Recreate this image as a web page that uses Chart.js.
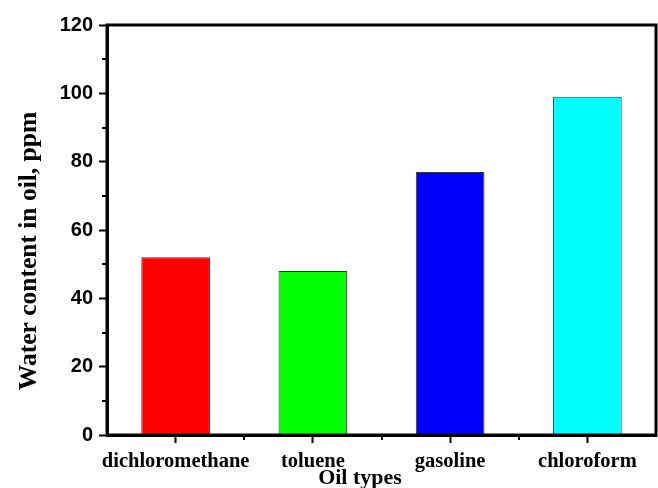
<!DOCTYPE html>
<html>
<head>
<meta charset="utf-8">
<script src="https://cdn.jsdelivr.net/npm/chart.js@4"></script>
<style>
  body { margin: 0; background: #fff; }
  #wrap { width: 658px; height: 488px; }
</style>
</head>
<body>
<div id="wrap"><canvas id="chart"></canvas></div>
<script>
// data
const oilTypes = ["dichloromethane", "toluene", "gasoline", "chloroform"];
const waterContent = [52, 48, 77, 99];
const barColors = ["#ff0000", "#00ff00", "#0000ff", "#00ffff"];
const yMinorTicks = [10, 30, 50, 70, 90, 110];
const xTitle = "Oil types";
const yTitle = "Water content in oil, ppm";

// frame round the plot, the short minor ticks and the axis titles
// (the titles sit off-centre in the original, so they are drawn here)
const framePlugin = {
    id: "frame",
    afterDraw(chart) {
        const ctx = chart.ctx;
        const a = chart.chartArea;
        const x = chart.scales.x;
        const y = chart.scales.y;
        ctx.save();
        ctx.strokeStyle = "#000";
        ctx.lineWidth = 3;
        ctx.strokeRect(a.left, a.top, a.right - a.left, a.bottom - a.top);
        ctx.lineWidth = 2;
        ctx.beginPath();
        yMinorTicks.forEach(v => {
            const py = Math.round(y.getPixelForValue(v));
            ctx.moveTo(a.left - 5, py);
            ctx.lineTo(a.left, py);
        });
        for (let i = 0; i < oilTypes.length - 1; i++) {
            const px = Math.round(x.getPixelForValue(i + 0.5));
            ctx.moveTo(px, a.bottom);
            ctx.lineTo(px, a.bottom + 5);
        }
        ctx.stroke();

        ctx.fillStyle = "#000";
        ctx.textAlign = "center";
        ctx.textBaseline = "middle";
        ctx.font = "bold 22px 'Liberation Serif'";
        ctx.fillText(xTitle, 360, 478);
        ctx.translate(29, 251);
        ctx.rotate(-Math.PI / 2);
        ctx.font = "bold 25.5px 'Liberation Serif'";
        ctx.fillText(yTitle, 0, 0);
        ctx.restore();
    }
};

new Chart(document.getElementById("chart"), {
    type: "bar",
    data: {
        labels: oilTypes,
        datasets: [{
            data: waterContent,
            backgroundColor: barColors,
            borderColor: "#333",
            borderWidth: 1,
            barPercentage: 0.5,
            categoryPercentage: 1
        }]
    },
    options: {
        responsive: true,
        maintainAspectRatio: false,
        animation: false,
        layout: { padding: { left: 0, right: 2, top: 25, bottom: 0 } },
        plugins: { legend: { display: false }, tooltip: { enabled: false } },
        scales: {
            x: {
                afterFit(scale) { scale.height = 53; },
                grid: { offset: false, drawOnChartArea: false, drawTicks: true, tickLength: 8, tickWidth: 2, tickColor: "#000" },
                border: { display: true, color: "#000", width: 3 },
                ticks: {
                    color: "#000",
                    padding: 6,
                    maxRotation: 0,
                    minRotation: 0,
                    autoSkip: false,
                    font: { family: "Liberation Serif", weight: "bold", size: 20.5 }
                }
            },
            y: {
                min: 0,
                max: 120,
                afterFit(scale) { scale.width = 107; },
                grid: { drawOnChartArea: false, drawTicks: true, tickLength: 8, tickWidth: 2, tickColor: "#000" },
                border: { display: true, color: "#000", width: 3 },
                ticks: {
                    stepSize: 20,
                    color: "#000",
                    padding: 6,
                    font: { family: "Liberation Sans", weight: "bold", size: 20 }
                }
            }
        }
    },
    plugins: [framePlugin]
});
</script>
</body>
</html>
